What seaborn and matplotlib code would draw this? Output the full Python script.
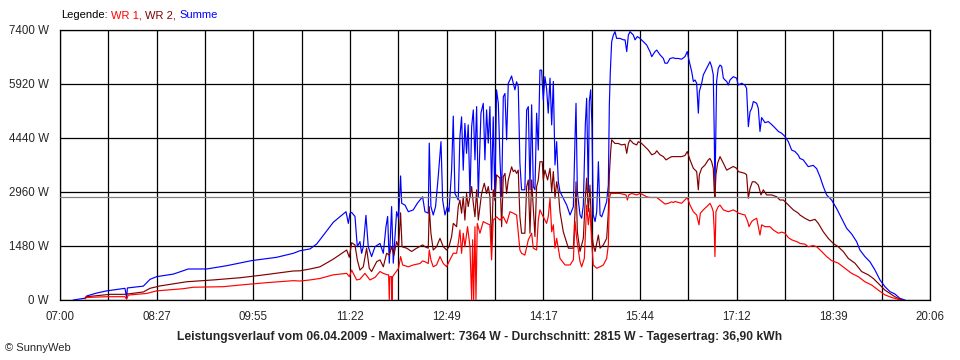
import matplotlib
matplotlib.use("Agg")
import matplotlib.pyplot as plt
import numpy as np
import pandas as pd
import seaborn as sns
from matplotlib.offsetbox import TextArea, HPacker, AnnotationBbox
from matplotlib.ticker import FixedLocator

summe = [
    (12.0, 0), (22.6, 50), (24.1, 110), (33.1, 190), (42.2, 250), (58.7, 320), (60.2, 60), (60.9, 330),
    (75.3, 380), (81.3, 565), (87.3, 640), (102.4, 710), (115.9, 850), (132.5, 850), (150.6, 940),
    (173.2, 1080), (195.7, 1170), (210.8, 1280), (216.8, 1350), (225.9, 1400), (231.9, 1535),
    (246.9, 2130), (258.4, 2420), (260.5, 2100), (262.0, 2380), (263.5, 2400), (266.5, 2290),
    (268.6, 1460), (271.0, 1600), (272.5, 1280), (274.0, 1460), (276.4, 2320), (278.5, 1460),
    (281.5, 1190), (284.6, 1460), (289.1, 1550), (292.1, 1280), (294.5, 2010), (296.0, 2290),
    (297.5, 1010), (299.6, 2560), (301.1, 1010), (304.1, 2420), (305.9, 2240), (307.7, 3400),
    (308.7, 2650), (311.7, 2600), (314.7, 2420), (319.2, 2470), (322.8, 2650), (327.6, 2830),
    (329.7, 2420), (332.7, 2380), (333.6, 4300), (335.1, 2560), (337.2, 2330), (339.3, 2560),
    (341.7, 3380), (344.2, 4340), (345.7, 2740), (347.8, 2330), (349.9, 2560), (351.4, 2420),
    (353.8, 3560), (355.3, 5040), (356.8, 2920), (359.8, 2740), (361.3, 4480), (362.8, 5020),
    (364.3, 3560), (365.8, 4840), (367.3, 4020), (368.8, 4800), (370.4, 2830), (371.9, 4750),
    (373.4, 5210), (374.9, 3840), (376.4, 5300), (377.9, 2830), (380.3, 5120), (382.4, 5390),
    (383.9, 3840), (385.4, 5210), (386.9, 4300), (388.4, 5300), (389.9, 3020), (391.4, 5020),
    (392.9, 2740), (394.4, 5760), (396.0, 5390), (397.5, 3840), (399.0, 2830), (400.5, 5570),
    (402.0, 5660), (403.5, 4390), (405.0, 5940), (406.5, 6030), (408.0, 6140), (409.5, 5940),
    (411.0, 5760), (412.5, 5980), (414.0, 5850), (415.5, 3750), (417.0, 3020), (420.0, 3020),
    (421.6, 5210), (423.1, 5300), (424.6, 3020), (426.1, 5350), (427.6, 3110), (429.1, 3020),
    (430.6, 5120), (432.1, 4110), (433.6, 6300), (435.1, 6300), (436.6, 5480), (438.1, 6120),
    (439.6, 5800), (441.1, 5120),
    (442.7, 6080), (444.2, 4800), (445.7, 5990), (447.2, 3700), (448.7, 4340), (450.2, 3240),
    (451.7, 2970), (454.7, 2790), (457.8, 2600), (460.8, 2330), (463.8, 2560), (465.3, 4430),
    (466.2, 5390), (467.4, 2970), (469.8, 2330), (471.3, 2240), (472.8, 2600), (474.6, 4800),
    (475.8, 5530), (477.3, 2970), (478.2, 5440), (479.4, 5760), (480.6, 4800), (481.8, 2330),
    (483.4, 2150), (484.9, 2420), (486.4, 3790), (487.9, 2330), (489.4, 2280), (491.5, 2470),
    (493.9, 2700), (495.4, 3150), (496.3, 5345), (497.2, 6260), (498.4, 7080), (499.9, 7260),
    (501.4, 7355), (502.9, 7170), (505.9, 7170), (509.0, 7130), (510.5, 7130), (512.0, 6810),
    (513.5, 7260), (515.0, 7355), (518.0, 7260), (519.5, 7130), (521.6, 7220), (524.0, 7170),
    (527.0, 7080), (530.0, 6990), (533.0, 6810), (534.6, 6670), (537.6, 6810), (539.1, 6850),
    (542.1, 6720), (545.1, 6620), (546.6, 6490), (548.7, 6490), (551.1, 6620), (554.1, 6640),
    (555.6, 6620), (558.6, 6620), (561.6, 6600), (564.6, 6670), (566.7, 6810), (568.2, 6580),
    (570.7, 6260), (572.2, 5990), (573.7, 6030), (575.2, 5940), (576.7, 5120), (577.6, 5710),
    (579.7, 5940), (581.2, 6170), (582.7, 6260), (585.7, 6440), (587.2, 6530), (588.7, 6400),
    (590.2, 6170), (591.1, 4520), (591.7, 2950), (592.6, 4900), (593.2, 5990), (594.7, 6350),
    (596.3, 6440), (597.8, 6400), (599.3, 6080), (600.8, 6030), (602.3, 5990), (603.8, 5890),
    (605.3, 6030), (608.3, 6120), (611.3, 6080), (612.8, 5890), (615.8, 5940), (618.8, 5890),
    (620.3, 5800), (621.9, 4750), (623.4, 5160), (624.9, 5250), (626.4, 5440), (629.4, 5390),
    (630.9, 5250), (632.4, 4620), (633.9, 5000), (636.9, 4860), (639.9, 4890), (642.9, 4810),
    (645.9, 4720), (649.0, 4620), (652.0, 4570), (655.0, 4480), (658.0, 4340), (661.0, 4110),
    (664.0, 4070), (667.0, 3970),
    (668.5, 3880), (671.5, 3840), (676.0, 3655), (680.5, 3690), (683.6, 3600), (686.6, 3380),
    (689.6, 3110), (692.6, 2880), (697.1, 2740), (701.6, 2510), (706.1, 2240), (710.7, 1965),
    (715.2, 1810), (719.7, 1600), (722.7, 1370), (727.2, 1190), (731.7, 1050), (736.3, 820),
    (740.8, 550), (745.3, 365), (749.8, 230), (754.3, 165), (758.8, 45), (763.4, 0),
]

wr2 = [
    (22.6, 50), (24.1, 90), (45.2, 155), (58.7, 155), (75.3, 220), (81.3, 320), (90.3, 385),
    (114.4, 500), (138.5, 550), (162.6, 610), (180.7, 675), (210.8, 795), (216.8, 800),
    (225.9, 850), (234.9, 910), (246.9, 1120), (259.0, 1370), (261.4, 1170), (263.5, 1570),
    (266.5, 1510), (268.6, 1100), (271.0, 820), (274.0, 910), (277.0, 1420), (279.4, 870),
    (281.5, 780), (286.1, 1050), (289.1, 1100), (292.1, 910), (295.1, 1280), (297.5, 1230),
    (299.6, 1460), (301.7, 1230), (304.1, 1600), (305.9, 1460), (307.7, 2390), (309.0, 1460),
    (313.2, 1420), (317.7, 1330), (322.2, 1420), (327.6, 1510),
    (329.7, 1460), (332.7, 1420), (333.6, 2560), (335.1, 1830), (337.2, 1370), (340.2, 1460),
    (343.3, 1690), (346.3, 1460), (349.3, 1370), (351.4, 1460), (353.8, 1740), (355.3, 2100),
    (358.3, 2010), (359.8, 2560), (361.3, 2740), (362.8, 2380), (364.3, 2830), (365.8, 2190),
    (367.3, 2920), (368.8, 2560), (371.9, 3110), (373.4, 2650), (374.9, 2280), (376.4, 3020),
    (377.9, 2190), (380.9, 2920), (383.3, 3200), (385.4, 2920), (386.9, 3110), (388.4, 2830),
    (389.9, 1460), (391.4, 3020), (392.9, 2740), (394.4, 3430), (397.5, 3340), (399.0, 2010),
    (400.5, 3380), (402.0, 3470), (403.5, 2920), (405.0, 3290), (408.0, 3650), (409.5, 3520),
    (411.0, 3560), (412.5, 3470), (414.0, 3560), (415.5, 2280), (417.0, 1830), (420.0, 1830),
    (421.6, 3110), (423.1, 3290), (424.6, 1830), (426.1, 3290), (429.1, 1740), (430.6, 3110),
    (432.1, 3290), (433.6, 3790), (435.7, 3790), (436.6, 3290), (438.1, 3560), (440.5, 3290),
    (442.7, 3610), (444.2, 2970), (445.7, 3520), (447.2, 2790), (448.7, 3240), (450.2, 2970),
    (451.7, 2420), (454.7, 1870), (459.3, 1420), (463.8, 1420), (465.3, 2420), (466.2, 3240),
    (467.4, 1870), (469.8, 1330), (472.8, 1690), (474.6, 2790), (475.8, 3340), (477.3, 2420),
    (478.8, 3150), (480.3, 1870), (481.8, 1510), (483.4, 1330), (486.4, 1780), (487.9, 1420),
    (490.9, 1510), (493.9, 1690), (495.4, 2420), (496.3, 3430), (497.5, 4070), (498.4, 4390),
    (501.4, 4290), (504.4, 4290), (507.4, 4250), (510.5, 4270), (512.0, 4020), (513.5, 4290),
    (515.0, 4390), (518.0, 4290), (521.0, 4250), (522.5, 4340), (525.5, 4290), (528.5, 4200),
    (531.5, 4110), (534.6, 3980), (537.6, 4020), (539.1, 4090), (542.1, 3980), (545.1, 3930),
    (547.5, 3840), (549.6, 3880), (552.6, 3930), (554.1, 3930),
    (555.6, 3930), (561.6, 3930), (564.6, 3960), (566.7, 4070), (569.2, 3840), (572.2, 3610),
    (575.2, 3520), (576.7, 3020), (577.6, 3430), (579.7, 3610), (582.7, 3700), (585.7, 3840),
    (587.2, 3880), (588.7, 3790), (590.2, 3610), (591.1, 2970), (591.7, 2830), (592.6, 3430),
    (594.1, 3750), (596.3, 3930), (599.3, 3750), (602.3, 3560), (605.3, 3610), (608.3, 3660),
    (611.3, 3610), (612.8, 3520), (618.8, 3470), (620.3, 3430), (621.9, 2790), (623.4, 3060),
    (625.5, 3240), (627.9, 3240), (630.9, 3150), (633.3, 2880), (635.4, 3020), (638.4, 2880),
    (642.9, 2880), (647.5, 2830), (650.5, 2740), (653.5, 2740), (656.5, 2650), (659.5, 2560),
    (662.5, 2470), (667.0, 2380),
    (668.5, 2330), (673.0, 2240), (677.5, 2170), (682.1, 2210), (685.1, 2100), (689.6, 1870),
    (694.1, 1690), (698.6, 1550), (703.1, 1460), (707.6, 1330), (712.2, 1140), (718.2, 1010),
    (724.2, 780), (730.2, 690), (734.8, 590), (740.8, 410), (745.3, 270), (749.8, 180),
    (754.3, 90), (758.8, 20), (761.9, 0),
]

wr1 = [
    (22.6, 30), (24.1, 70), (42.2, 90), (58.7, 90), (60.2, 20), (61.7, 135), (78.3, 180),
    (87.3, 250), (111.4, 310), (120.5, 350), (147.6, 365), (162.6, 410), (186.7, 475),
    (210.8, 530), (216.8, 520), (225.9, 550), (234.9, 590), (246.9, 690), (259.0, 730),
    (261.4, 640), (263.5, 820), (268.0, 550), (271.0, 570), (275.5, 730), (280.0, 550),
    (284.6, 620), (289.1, 780), (292.1, 730), (295.7, 690), (296.9, 690), (297.5, 0),
    (298.1, 640), (299.6, 640), (299.9, 0), (300.5, 640), (305.9, 870), (307.7, 1190),
    (309.6, 960), (314.7, 910), (319.2, 960), (325.2, 1000), (327.6, 1070),
    (329.7, 1050), (332.7, 1000), (333.6, 1370), (335.1, 1100), (337.2, 910), (340.2, 960),
    (343.3, 1190), (346.3, 1000), (349.3, 910), (351.4, 1050), (353.8, 1190), (355.3, 1280),
    (358.3, 1280), (359.8, 1550), (361.3, 1920), (362.8, 1280), (364.3, 1830), (365.8, 1460),
    (368.2, 2010), (370.4, 1460), (371.9, 0), (372.8, 1650), (373.7, 0), (374.9, 2010),
    (375.8, 0), (377.0, 2100), (379.4, 1830), (382.4, 2150), (385.4, 2100), (388.4, 2060),
    (389.9, 1100), (391.4, 2190), (394.4, 2280), (397.5, 2190), (400.5, 2280), (403.5, 2100),
    (406.5, 2420), (409.5, 2380), (412.5, 2330), (415.5, 1370), (417.0, 1280), (420.0, 1230),
    (423.1, 1650), (426.1, 1830), (427.6, 1420), (430.6, 1370), (432.1, 2190), (433.6, 2470),
    (436.6, 2280), (439.6, 2100), (441.1, 2280),
    (442.7, 2790), (444.2, 1870), (445.7, 2060), (447.2, 1420), (448.7, 1690), (451.7, 1140),
    (456.3, 960), (460.8, 960), (463.8, 1100), (465.3, 2150), (466.8, 1690), (469.8, 1050),
    (471.3, 910), (473.7, 1140), (475.8, 2600), (477.3, 2060), (478.8, 2510), (480.3, 1600),
    (481.8, 960), (484.9, 870), (487.9, 910), (490.9, 960), (493.9, 1140), (495.4, 1510),
    (496.3, 2790), (497.5, 2920), (501.4, 2920), (505.9, 2920), (511.4, 2880), (512.6, 2740),
    (513.8, 2880), (516.5, 2920), (521.0, 2880), (524.0, 2920), (527.0, 2880), (530.0, 2830),
    (533.0, 2810), (539.1, 2810), (542.1, 2740), (546.6, 2630), (549.6, 2650), (552.6, 2690),
    (554.1, 2670),
    (555.6, 2700), (561.6, 2650), (566.7, 2810), (569.2, 2600), (572.2, 2420), (575.2, 2330),
    (577.3, 2060), (578.5, 2380), (581.2, 2470), (585.7, 2600), (587.2, 2650), (588.7, 2560),
    (590.2, 2420), (591.1, 1870), (591.7, 1190), (592.6, 2420), (594.7, 2560), (596.3, 2600),
    (599.3, 2470), (603.8, 2420), (608.3, 2470), (611.3, 2420), (612.8, 2380), (618.8, 2330),
    (621.3, 2150), (622.5, 2010), (624.9, 2150), (626.4, 2190), (629.4, 2240), (632.4, 1780),
    (633.9, 2060), (636.9, 2010), (641.4, 2010), (644.4, 1920), (649.0, 1830), (652.0, 1860),
    (655.0, 1830), (658.0, 1710), (661.0, 1650), (665.5, 1600), (667.0, 1580),
    (668.5, 1550), (673.0, 1530), (676.0, 1460), (680.5, 1490), (683.6, 1460), (688.1, 1330),
    (692.6, 1190), (697.1, 1080), (703.1, 1010), (709.2, 870), (715.2, 730), (721.2, 640),
    (727.2, 500), (733.3, 410), (739.3, 270), (745.3, 140), (751.3, 70), (755.8, 30),
    (758.8, 0),
]

average_w = 2815
y_ticks = [0, 1480, 2960, 4440, 5920, 7400]
x_labels = ["07:00", "08:27", "09:55", "11:22", "12:49", "14:17", "15:44", "17:12", "18:39", "20:06"]
title = ("Leistungsverlauf vom 06.04.2009 - Maximalwert: 7364 W - "
         "Durchschnitt: 2815 W - Tagesertrag: 36,90 kWh")

series = {"Summe": summe, "WR 2": wr2, "WR 1": wr1}
colors = {"Summe": "#0000ff", "WR 2": "#800000", "WR 1": "#ff0000"}

frames = []
for name, pts in series.items():
    t, w = zip(*pts)
    frames.append(pd.DataFrame({"Minute": t, "Leistung": w, "Serie": name}))
df = pd.concat(frames, ignore_index=True)

sns.set_style("white")
plt.rcParams["font.family"] = ["Liberation Sans", "DejaVu Sans"]
plt.rcParams["font.size"] = 8

fig = plt.figure(figsize=(9.6, 3.6), dpi=100)
ax = fig.add_axes([60 / 960, 60 / 360, 870 / 960, 270 / 360])

sns.lineplot(data=df, x="Minute", y="Leistung", hue="Serie",
             hue_order=["Summe", "WR 2", "WR 1"], palette=colors,
             estimator=None, linewidth=0.85, legend=False, ax=ax, zorder=3)

ax.axhline(average_w, color="#808080", lw=0.9, zorder=5)

x_end = 786
major = np.linspace(0, x_end, len(x_labels))
minor = (major[:-1] + major[1:]) / 2
ax.set_xlim(0, x_end)
ax.set_ylim(0, y_ticks[-1])
ax.xaxis.set_major_locator(FixedLocator(major))
ax.xaxis.set_minor_locator(FixedLocator(minor))
ax.set_xticklabels(x_labels)
ax.set_yticks(y_ticks)
ax.set_yticklabels([f"{v} W" for v in y_ticks])
ax.grid(True, which="both", color="black", lw=0.9)
ax.set_axisbelow(True)
ax.tick_params(which="both", direction="out", length=5, width=0.9, color="black",
               labelsize=8.3, pad=3)
for s in ax.spines.values():
    s.set_color("black")
    s.set_linewidth(0.9)
ax.set_xlabel("")
ax.set_ylabel("")

parts = [("Legende:", "black"), ("WR 1,", "#ff0000"), ("WR 2,", "#800000"), ("Summe", "#0000ff")]
boxes = [TextArea(s, textprops=dict(color=c, fontsize=8)) for s, c in parts]
pack = HPacker(children=boxes, align="baseline", pad=0, sep=2.5)
ab = AnnotationBbox(pack, (61 / 960, 1 - 15 / 360), xycoords="figure fraction",
                    box_alignment=(0, 0.5), frameon=False, pad=0)
fig.add_artist(ab)

fig.text(480 / 960, 1 - 337 / 360, title, ha="center", va="center",
         fontsize=8.7, fontweight="bold")
fig.text(5 / 960, 1 - 348 / 360, "\u00a9 SunnyWeb", ha="left", va="center", fontsize=8)

fig.savefig("out.png", dpi=100)
plt.close(fig)
